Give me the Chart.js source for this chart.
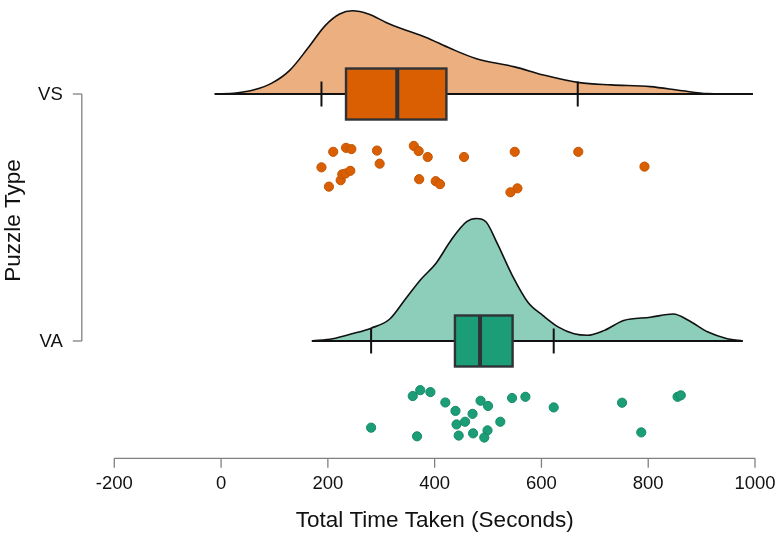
<!DOCTYPE html>
<html>
<head>
<meta charset="utf-8">
<script src="https://cdn.jsdelivr.net/npm/chart.js@4/dist/chart.umd.min.js"></script>
<style>
  html, body { margin: 0; padding: 0; background: #fff; }
  #wrap { width: 780px; height: 539px; position: relative; }
</style>
</head>
<body>
<div id="wrap"><canvas id="rainChart"></canvas></div>
<script>
// categories on the y axis (level 1 = VA, level 2 = VS)
const categories = ['VA', 'VS'];
const xTicks = [-200, 0, 200, 400, 600, 800, 1000];

// raw times (seconds) and vertical jitter of each dot
const vsTimes  = [188, 210, 234, 244, 202, 224, 227, 233, 242, 292, 297, 361, 370, 387, 371, 402, 410, 455, 550, 669, 793, 555, 542];
const vsJitter = [-0.297, -0.234, -0.218, -0.223, -0.375, -0.349, -0.325, -0.322, -0.311, -0.229, -0.282, -0.210, -0.231, -0.255, -0.345, -0.353, -0.365, -0.255, -0.234, -0.234, -0.294, -0.382, -0.398];
const vaTimes  = [359, 373, 392, 420, 439, 471, 486, 500, 545, 570, 623, 751, 855, 861, 281, 367, 441, 457, 523, 445, 472, 499, 493, 787];
const vaJitter = [-0.223, -0.199, -0.207, -0.249, -0.283, -0.295, -0.242, -0.263, -0.231, -0.226, -0.269, -0.250, -0.226, -0.220, -0.351, -0.386, -0.338, -0.327, -0.327, -0.383, -0.374, -0.362, -0.391, -0.370];

// box stats: min, q1, median, q3, max (whisker ends)
const vsBox = [188, 234, 330, 422, 668];
const vaBox = [281, 438, 485, 546, 623];

// half-violin density (height in y-axis units above the category line)
const vsDensX = [-12, 28, 62, 95, 129, 162, 195, 222, 246, 276, 309, 336, 383, 430, 477, 550, 604, 671, 731, 804, 864, 911, 996];
const vsDensY = [0, 0.004, 0.017, 0.044, 0.097, 0.184, 0.277, 0.324, 0.337, 0.324, 0.290, 0.266, 0.230, 0.184, 0.144, 0.110, 0.077, 0.046, 0.037, 0.030, 0.013, 0.002, 0];
const vaDensX = [170, 209, 245, 281, 316, 345, 374, 403, 431, 460, 478, 496, 517, 546, 575, 603, 632, 661, 686, 718, 754, 804, 847, 876, 912, 948, 977];
const vaDensY = [0, 0.009, 0.029, 0.052, 0.089, 0.169, 0.249, 0.316, 0.409, 0.483, 0.496, 0.483, 0.396, 0.263, 0.156, 0.103, 0.056, 0.029, 0.023, 0.043, 0.083, 0.096, 0.109, 0.083, 0.036, 0.009, 0];

const FONT = "'Liberation Sans', Arial, Helvetica, sans-serif";

const groups = [
    { level: 2, box: vsBox, densX: vsDensX, color: '#D95F02' },
    { level: 1, box: vaBox, densX: vaDensX, color: '#1B9E77' }
];

function cloud(xs, hs, level, fillColor) {
    return {
        type: 'scatter',
        data: xs.map((v, i) => ({ x: v, y: level + hs[i] })),
        showLine: true,
        fill: { value: level },
        backgroundColor: fillColor,
        borderColor: '#111',
        borderWidth: 1.6,
        cubicInterpolationMode: 'monotone',
        pointRadius: 0,
        order: 3
    };
}

function rain(xs, jit, level, color, edge) {
    return {
        type: 'scatter',
        data: xs.map((v, i) => ({ x: v, y: level + jit[i] })),
        pointRadius: 4.6,
        pointBackgroundColor: color,
        pointBorderColor: edge,
        pointBorderWidth: 1,
        order: 1
    };
}

const rainPlugin = {
    id: 'rainBoxes',
    afterDatasetsDraw(chart) {
        const { ctx, scales: { x, y } } = chart;
        groups.forEach(g => {
            const cy = y.getPixelForValue(g.level);
            ctx.save();
            // baseline under the cloud, doubles as whisker line
            ctx.strokeStyle = '#111';
            ctx.lineWidth = 2.2;
            ctx.beginPath();
            ctx.moveTo(x.getPixelForValue(g.densX[0]), cy);
            ctx.lineTo(x.getPixelForValue(g.densX[g.densX.length - 1]), cy);
            ctx.stroke();
            // whisker caps
            ctx.lineWidth = 2;
            [g.box[0], g.box[4]].forEach(v => {
                const px = x.getPixelForValue(v);
                ctx.beginPath();
                ctx.moveTo(px, cy - 12.5);
                ctx.lineTo(px, cy + 12.5);
                ctx.stroke();
            });
            // box
            const x1 = x.getPixelForValue(g.box[1]);
            const x3 = x.getPixelForValue(g.box[3]);
            ctx.fillStyle = g.color;
            ctx.fillRect(x1, cy - 25.5, x3 - x1, 51);
            ctx.strokeStyle = '#2f3337';
            ctx.lineWidth = 2.4;
            ctx.strokeRect(x1, cy - 25.5, x3 - x1, 51);
            // median
            const xm = x.getPixelForValue(g.box[2]);
            ctx.lineWidth = 4;
            ctx.beginPath();
            ctx.moveTo(xm, cy - 25.5);
            ctx.lineTo(xm, cy + 25.5);
            ctx.stroke();
            ctx.restore();
        });
    },
    afterDraw(chart) {
        const { ctx, chartArea, scales: { x, y } } = chart;
        ctx.save();
        ctx.strokeStyle = '#808080';
        ctx.lineWidth = 1.3;
        ctx.fillStyle = '#111';

        // x axis
        const ay = chartArea.bottom;
        const xa = x.getPixelForValue(xTicks[0]);
        const xb = x.getPixelForValue(xTicks[xTicks.length - 1]);
        ctx.beginPath();
        ctx.moveTo(xa, ay);
        ctx.lineTo(xb, ay);
        ctx.stroke();
        ctx.font = '18.5px ' + FONT;
        ctx.textAlign = 'center';
        ctx.textBaseline = 'middle';
        xTicks.forEach(t => {
            const px = x.getPixelForValue(t);
            ctx.beginPath();
            ctx.moveTo(px, ay);
            ctx.lineTo(px, ay + 9.5);
            ctx.stroke();
            ctx.fillText(String(t), px, ay + 26);
        });
        ctx.font = '22.5px ' + FONT;
        ctx.fillText('Total Time Taken (Seconds)', (xa + xb) / 2, ay + 62);

        // y axis, offset left of the plot region
        const axX = chartArea.left - 32.5;
        const y1 = y.getPixelForValue(1);
        const y2 = y.getPixelForValue(2);
        ctx.beginPath();
        ctx.moveTo(axX, y2);
        ctx.lineTo(axX, y1);
        ctx.stroke();
        ctx.font = '18.5px ' + FONT;
        ctx.textAlign = 'right';
        categories.forEach((c, i) => {
            const py = y.getPixelForValue(i + 1);
            ctx.beginPath();
            ctx.moveTo(axX - 9, py);
            ctx.lineTo(axX, py);
            ctx.stroke();
            ctx.fillText(c, axX - 19, py + 1);
        });
        ctx.translate(14, (y1 + y2) / 2 + 3);
        ctx.rotate(-Math.PI / 2);
        ctx.textAlign = 'center';
        ctx.font = '22.5px ' + FONT;
        ctx.fillText('Puzzle Type', 0, 0);
        ctx.restore();
    }
};

new Chart(document.getElementById('rainChart'), {
    type: 'scatter',
    data: {
        datasets: [
            rain(vsTimes, vsJitter, 2, '#D95F02', '#C45504'),
            rain(vaTimes, vaJitter, 1, '#1B9E77', '#168A68'),
            cloud(vsDensX, vsDensY, 2, 'rgba(217, 95, 2, 0.5)'),
            cloud(vaDensX, vaDensY, 1, 'rgba(27, 158, 119, 0.5)')
        ]
    },
    options: {
        responsive: true,
        maintainAspectRatio: false,
        animation: false,
        layout: { padding: { left: 114.3, right: 25, top: 0, bottom: 80.7 } },
        plugins: { legend: { display: false }, tooltip: { enabled: false } },
        scales: {
            x: { type: 'linear', min: -200, max: 1000, display: false },
            y: { type: 'linear', min: 0.525, max: 2.358, display: false }
        }
    },
    plugins: [rainPlugin]
});
</script>
</body>
</html>
